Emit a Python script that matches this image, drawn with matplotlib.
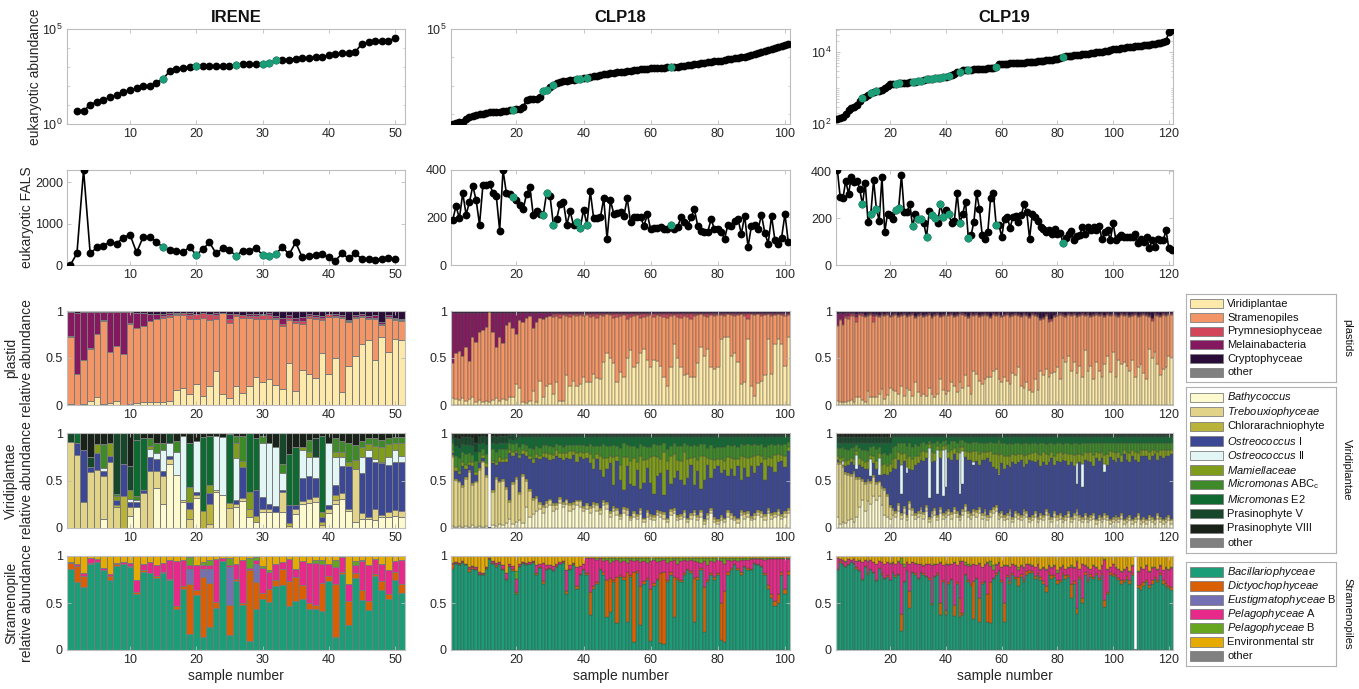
import matplotlib
matplotlib.use("Agg")
import matplotlib.pyplot as plt
import numpy as np
from matplotlib.patches import Rectangle

plt.rcParams["font.family"] = ["Liberation Sans", "DejaVu Sans"]
plt.rcParams["mathtext.fontset"] = "custom"
plt.rcParams["mathtext.rm"] = "Liberation Sans"
plt.rcParams["mathtext.it"] = "Liberation Sans:italic"
plt.rcParams["mathtext.bf"] = "Liberation Sans:bold"

# ---------------- data ----------------
titles = ["IRENE", "CLP18", "CLP19"]

# eukaryotic abundance (sorted), IRENE starts at sample 2
irene_abund = [5, 5, 10, 15, 19, 25, 34, 49, 65, 76, 100, 100, 150, 240, 600, 740, 910, 990,
               1070, 1070, 1080, 1110, 1120, 1150, 1300, 1400, 1420, 1450, 1480, 1600, 2200,
               2400, 2450, 2800, 2900, 3000, 3300, 3350, 4300, 5000, 5300, 5500, 6200, 17000,
               20000, 22000, 22500, 23000, 33000]
clp18_abund = [46, 48, 51, 55, 66, 78, 87, 91, 98, 102, 110, 115, 117, 120, 123, 126, 129, 135,
               145, 151, 158, 182, 316, 331, 339, 347, 417, 661, 724, 891, 1100, 1260, 1350,
               1450, 1510, 1580, 1660, 1740, 1780, 1820, 1900, 2090, 2190, 2290, 2400, 2510,
               2630, 2750, 2880, 3020, 3090, 3160, 3310, 3390, 3550, 3630, 3800, 3890, 3980,
               4170, 4270, 4270, 4370, 4370, 4470, 4470, 4570, 4680, 4790, 5010, 5250, 5500,
               5750, 6030, 6310, 6460, 6610, 6920, 7240, 7590, 7760, 8130, 8510, 8910, 9330,
               9770, 10200, 10700, 11500, 12300, 13200, 14100, 15100, 16600, 18600, 20000,
               21400, 22900, 25100, 27500, 28800]
clp19_abund = [138, 148, 158, 191, 245, 282, 295, 347, 447, 537, 562, 631, 724, 776, 813, 851,
               891, 1000, 1150, 1320, 1320, 1330, 1350, 1380, 1410, 1420, 1450, 1480, 1510,
               1550, 1620, 1700, 1740, 1780, 1820, 1860, 1900, 1950, 2000, 2040, 2140, 2290,
               2510, 2750, 2880, 3090, 3160, 3160, 3240, 3310, 3310, 3390, 3390, 3470, 3550,
               3550, 3630, 3800, 4570, 4680, 4790, 4790, 4900, 4900, 5010, 5010, 5130, 5130,
               5250, 5250, 5370, 5370, 5500, 5620, 5750, 5890, 6030, 6170, 6310, 6460, 6760,
               7240, 7590, 7760, 7940, 8130, 8320, 8510, 8710, 8910, 9120, 9330, 9550, 9770,
               10000, 10200, 10500, 11000, 11500, 12000, 12300, 12600, 12900, 13200, 13500,
               13800, 14100, 14500, 14800, 15100, 15500, 15800, 16200, 16600, 17000, 17400,
               18200, 19100, 20400, 36300, 41700]

# eukaryotic FALS
irene_fals = [0, 280, 2300, 280, 425, 465, 560, 520, 665, 735, 305, 680, 680, 560, 425, 375,
              345, 305, 440, 240, 385, 545, 280, 400, 360, 225, 345, 345, 415, 240, 225, 265,
              440, 255, 545, 185, 225, 240, 255, 185, 105, 280, 160, 280, 145, 145, 120, 145,
              160, 145]
clp18_fals = [190, 248, 196, 303, 212, 265, 333, 272, 170, 335, 336, 343, 302, 290, 145, 400,
              302, 300, 287, 272, 252, 235, 298, 328, 210, 226, 215, 212, 305, 290, 170, 195,
              258, 265, 170, 226, 168, 180, 155, 233, 170, 310, 196, 196, 200, 280, 110, 272,
              215, 220, 222, 205, 280, 180, 200, 200, 200, 165, 213, 150, 155, 155, 160, 150,
              150, 170, 150, 160, 200, 180, 165, 200, 236, 165, 145, 140, 140, 193, 150, 152,
              140, 110, 170, 165, 185, 195, 130, 208, 75, 165, 168, 150, 212, 135, 90, 206,
              105, 90, 115, 215, 95]
clp19_fals = [405, 290, 287, 360, 304, 375, 353, 360, 325, 259, 350, 184, 219, 363, 240, 190,
              375, 141, 219, 212, 195, 236, 243, 384, 226, 226, 261, 165, 219, 198, 196, 180,
              120, 230, 215, 202, 180, 261, 205, 233, 219, 180, 190, 307, 180, 219, 271, 117,
              127, 184, 307, 240, 127, 109, 141, 285, 308, 172, 172, 120, 198, 205, 158, 205,
              208, 184, 212, 259, 226, 113, 219, 205, 190, 163, 155, 141, 151, 134, 155, 134,
              137, 95, 116, 131, 144, 106, 124, 127, 163, 134, 163, 148, 163, 148, 165, 109,
              141, 148, 106, 180, 106, 120, 127, 120, 120, 120, 120, 131, 92, 113, 99, 120, 71,
              106, 78, 113, 106, 106, 148, 71, 66]

irene_green = [15, 20, 26, 30, 31, 32]
clp18_green = [19, 28, 29, 31, 38, 39, 41, 66]
clp19_green = [10, 13, 15, 22, 23, 28, 30, 31, 33, 35, 36, 38, 39, 41, 45, 48, 58, 82]

# plastid relative abundance (percent per sample)
plastid_labels = ["Viridiplantae", "Stramenopiles", "Prymnesiophyceae", "Melainabacteria",
                  "Cryptophyceae", "other"]
irene_pla_vir = [1, 0, 1, 4, 8, 1, 2, 4, 0, 1, 2, 3, 3, 3, 3, 4, 16, 18, 12, 22, 10, 20, 36, 12,
                 7, 20, 13, 20, 30, 25, 28, 21, 17, 45, 15, 37, 33, 29, 55, 33, 50, 14, 42, 52,
                 65, 69, 48, 72, 56, 70, 69]
irene_pla_str = [71, 33, 47, 56, 68, 88, 54, 59, 54, 85, 80, 81, 86, 89, 90, 90, 80, 78, 80, 70,
                 83, 70, 56, 86, 80, 75, 80, 73, 62, 67, 63, 70, 67, 45, 72, 49, 60, 62, 35, 61,
                 44, 79, 46, 41, 29, 23, 44, 13, 37, 20, 20]
irene_pla_pry = [1, 0, 0, 1, 0, 1, 0, 0, 0, 1, 0, 0, 0, 0, 2, 2, 1, 2, 4, 5, 5, 7, 4, 0, 5, 2, 3,
                 2, 3, 4, 5, 2, 2, 3, 2, 3, 2, 3, 3, 3, 1, 1, 1, 1, 1, 1, 1, 1, 1, 1, 1]
irene_pla_mel = [26, 65, 51, 38, 23, 9, 43, 36, 45, 12, 16, 14, 8, 5, 2, 2, 1, 0, 2, 0, 0, 0, 2,
                 0, 5, 0, 0, 2, 2, 1, 2, 2, 7, 3, 4, 5, 2, 2, 2, 0, 2, 2, 1, 2, 2, 2, 3, 2, 2, 2,
                 2]
irene_pla_cry = [1, 2, 1, 1, 1, 1, 1, 1, 1, 1, 2, 2, 3, 3, 3, 2, 2, 2, 2, 3, 2, 3, 2, 2, 3, 3, 4,
                 3, 3, 3, 2, 5, 7, 4, 7, 6, 3, 4, 5, 3, 3, 4, 10, 4, 3, 5, 4, 12, 4, 7, 8]

clp18_pla_vir = [7, 6, 5, 7, 4, 6, 8, 3, 5, 3, 4, 3, 5, 7, 4, 6, 5, 8, 8, 22, 18, 3, 2, 4, 15, 3,
                 26, 8, 20, 22, 12, 25, 4, 4, 32, 20, 26, 20, 22, 30, 24, 25, 33, 29, 28, 46, 55,
                 50, 45, 25, 35, 30, 50, 58, 40, 45, 55, 60, 48, 40, 48, 47, 42, 30, 20, 40, 65,
                 50, 40, 32, 33, 30, 30, 45, 62, 52, 60, 40, 38, 40, 70, 72, 72, 52, 55, 46, 22,
                 24, 70, 20, 10, 23, 26, 32, 70, 33, 65, 70, 65, 42, 72]
clp18_pla_str = [38, 49, 52, 45, 58, 41, 64, 64, 73, 77, 79, 96, 73, 55, 68, 60, 80, 80, 74, 54,
                 72, 85, 91, 91, 67, 85, 67, 84, 74, 73, 82, 70, 89, 92, 63, 74, 70, 75, 74, 65,
                 72, 69, 62, 64, 68, 49, 42, 46, 48, 69, 60, 66, 42, 36, 55, 51, 38, 34, 47, 56,
                 46, 49, 53, 64, 73, 55, 31, 44, 53, 63, 61, 62, 65, 51, 35, 43, 34, 56, 57, 56,
                 26, 23, 25, 44, 40, 50, 75, 71, 22, 77, 86, 74, 69, 64, 27, 62, 31, 27, 31, 53,
                 24]
clp18_pla_pry = [0, 0, 0, 0, 0, 0, 0, 0, 0, 0, 0, 0, 0, 0, 0, 0, 0, 0, 0, 0, 0, 0, 0, 0, 0, 0, 0,
                 0, 0, 0, 3, 2, 4, 1, 2, 3, 1, 2, 1, 2, 1, 3, 2, 4, 1, 2, 0, 1, 4, 3, 2, 1, 5, 3,
                 2, 1, 4, 3, 2, 1, 3, 1, 2, 3, 4, 2, 1, 3, 4, 2, 3, 5, 2, 1, 0, 2, 3, 1, 2, 1, 1,
                 2, 0, 1, 2, 1, 0, 2, 5, 0, 1, 0, 2, 1, 0, 2, 1, 0, 1, 2, 1]
clp18_pla_mel = [53, 43, 41, 46, 36, 51, 26, 31, 20, 18, 15, 0, 20, 36, 26, 32, 13, 10, 16, 22,
                 8, 10, 5, 3, 16, 10, 5, 6, 4, 3, 1, 1, 1, 1, 1, 1, 1, 1, 1, 1, 1, 1, 1, 1, 1, 1,
                 1, 1, 1, 1, 1, 1, 1, 1, 1, 1, 1, 1, 1, 1, 1, 1, 1, 1, 1, 1, 1, 1, 1, 1, 1, 1, 1,
                 1, 1, 1, 1, 1, 1, 1, 1, 1, 1, 1, 1, 1, 1, 1, 1, 1, 1, 1, 1, 1, 1, 1, 1, 1, 1, 1,
                 1]
clp18_pla_cry = [2, 2, 2, 2, 2, 2, 2, 2, 2, 2, 2, 1, 2, 2, 2, 2, 2, 2, 2, 2, 2, 2, 2, 2, 2, 2, 2,
                 2, 2, 2, 2, 2, 2, 2, 2, 2, 2, 2, 2, 2, 2, 2, 2, 2, 2, 2, 2, 2, 2, 2, 2, 2, 2, 2,
                 2, 2, 2, 2, 2, 2, 2, 2, 2, 2, 2, 2, 2, 2, 2, 2, 2, 2, 2, 2, 2, 2, 2, 2, 2, 2, 2,
                 2, 2, 2, 2, 2, 2, 2, 2, 2, 2, 2, 2, 2, 2, 2, 2, 2, 2, 2, 2]

clp19_pla_vir = [4, 3, 3, 3, 4, 5, 3, 9, 8, 5, 3, 15, 8, 8, 8, 12, 17, 6, 11, 18, 16, 15, 12, 20,
                 10, 18, 16, 10, 25, 14, 10, 12, 10, 18, 12, 8, 12, 28, 16, 12, 15, 24, 20, 14,
                 24, 18, 32, 20, 12, 36, 33, 26, 22, 28, 30, 30, 36, 38, 28, 25, 30, 26, 22, 34,
                 32, 40, 20, 18, 24, 16, 14, 28, 16, 36, 32, 38, 30, 34, 35, 40, 28, 50, 46, 52,
                 36, 46, 34, 42, 30, 58, 36, 42, 28, 46, 36, 30, 44, 52, 35, 56, 30, 48, 44, 46,
                 42, 36, 48, 30, 40, 44, 34, 28, 60, 50, 56, 44, 32, 38, 40, 52, 50]
clp19_pla_str = [80, 87, 82, 90, 88, 90, 92, 79, 88, 90, 91, 80, 88, 80, 87, 82, 79, 89, 85, 76,
                 79, 81, 82, 75, 86, 76, 79, 86, 68, 81, 86, 82, 85, 78, 81, 87, 84, 66, 79, 84,
                 80, 72, 74, 81, 73, 78, 63, 73, 84, 59, 63, 68, 73, 68, 65, 63, 60, 57, 68, 69,
                 65, 70, 72, 61, 64, 55, 74, 78, 71, 77, 82, 67, 78, 54, 60, 57, 58, 55, 59, 55,
                 68, 45, 48, 44, 59, 50, 60, 53, 66, 37, 60, 52, 67, 50, 59, 66, 50, 44, 60, 40,
                 65, 46, 52, 49, 54, 58, 47, 66, 54, 51, 62, 67, 34, 39, 40, 51, 62, 58, 55, 44,
                 46]
clp19_pla_pry = [1, 1, 1, 2, 3, 2, 2, 6, 1, 2, 1, 1, 1, 7, 1, 1, 1, 1, 1, 1, 1, 1, 1, 1, 1, 1, 1,
                 1, 1, 1, 1, 1, 1, 1, 1, 1, 1, 1, 1, 1, 1, 1, 1, 1, 1, 1, 1, 1, 1, 1, 1, 1, 1, 1,
                 1, 1, 1, 1, 1, 1, 1, 1, 1, 1, 1, 1, 1, 1, 1, 1, 1, 1, 1, 2, 1, 1, 2, 2, 1, 1, 1,
                 1, 1, 1, 1, 1, 1, 1, 1, 1, 1, 1, 1, 1, 1, 1, 1, 1, 1, 1, 1, 1, 1, 1, 1, 1, 1, 1,
                 1, 1, 1, 1, 1, 3, 1, 1, 1, 1, 1, 1, 1]
clp19_pla_mel = [12, 7, 11, 3, 3, 1, 1, 3, 1, 1, 1, 1, 1, 2, 1, 1, 1, 1, 1, 1, 1, 1, 1, 1, 1, 1,
                 1, 1, 1, 1, 1, 1, 1, 1, 1, 1, 1, 1, 1, 1, 1, 1, 1, 1, 1, 1, 1, 1, 1, 1, 1, 1, 1,
                 1, 1, 1, 1, 1, 1, 1, 1, 1, 1, 1, 1, 1, 1, 1, 1, 1, 1, 1, 1, 1, 1, 1, 2, 1, 1, 1,
                 1, 1, 1, 1, 1, 1, 1, 1, 1, 1, 1, 1, 1, 1, 1, 1, 1, 1, 1, 1, 1, 1, 1, 1, 1, 1, 1,
                 1, 1, 1, 1, 1, 1, 1, 1, 1, 1, 1, 1, 1, 1]
clp19_pla_cry = [3, 2, 3, 2, 2, 2, 2, 3, 2, 2, 4, 3, 2, 3, 3, 4, 2, 3, 2, 4, 3, 2, 4, 3, 2, 4, 3,
                 2, 5, 3, 2, 4, 3, 2, 5, 3, 2, 4, 3, 2, 3, 2, 4, 3, 1, 2, 3, 5, 2, 3, 2, 4, 3, 2,
                 3, 5, 2, 3, 2, 4, 3, 2, 4, 3, 2, 3, 4, 2, 3, 5, 2, 3, 4, 7, 6, 3, 8, 8, 4, 3, 2,
                 3, 4, 2, 3, 2, 4, 3, 2, 3, 2, 4, 3, 2, 3, 2, 4, 2, 3, 2, 3, 4, 2, 3, 2, 4, 3, 2,
                 4, 3, 2, 3, 4, 7, 2, 3, 4, 2, 3, 2, 2]

# Viridiplantae relative abundance (percent per sample)
viridi_labels = [r"$\it{Bathycoccus}$", r"$\it{Trebouxiophyceae}$", "Chlorarachniophyte",
                 r"$\it{Ostreococcus}$ I", r"$\it{Ostreococcus}$ II", r"$\it{Mamiellaceae}$",
                 r"$\it{Micromonas}$ ABC$_\mathrm{c}$", r"$\it{Micromonas}$ E2",
                 "Prasinophyte V", "Prasinophyte VIII", "other"]
irene_vir_bat = [0, 0, 0, 0, 0, 10, 0, 0, 0, 13, 22, 0, 0, 42, 25, 67, 56, 27, 0, 32, 0, 0, 38,
                 35, 0, 22, 28, 12, 6, 17, 17, 17, 17, 0, 15, 25, 26, 27, 0, 16, 25, 31, 18, 6,
                 9, 10, 8, 12, 12, 13, 12]
irene_vir_tre = [91, 77, 27, 59, 61, 45, 70, 22, 0, 9, 0, 37, 60, 18, 30, 6, 0, 3, 10, 3, 0, 4,
                 2, 0, 21, 3, 4, 0, 0, 3, 3, 0, 21, 2, 5, 3, 5, 6, 3, 4, 5, 6, 2, 56, 7, 2, 12, 2,
                 5, 6, 6]
irene_vir_chl = [0, 0, 0, 0, 0, 0, 0, 2, 34, 0, 0, 0, 0, 0, 0, 0, 0, 0, 10, 0, 18, 21, 0, 0, 5,
                 0, 0, 8, 7, 0, 0, 0, 0, 3, 0, 0, 0, 0, 3, 0, 5, 0, 0, 0, 0, 0, 0, 0, 0, 0, 0]
irene_vir_os1 = [0, 12, 55, 5, 18, 5, 6, 6, 33, 5, 5, 3, 15, 13, 5, 3, 0, 0, 7, 3, 0, 12, 0, 0,
                 0, 4, 32, 0, 27, 13, 5, 6, 2, 19, 4, 25, 24, 20, 6, 4, 10, 28, 45, 0, 42, 63, 50,
                 54, 49, 51, 52]
irene_vir_os2 = [0, 0, 0, 0, 0, 3, 0, 0, 0, 4, 3, 0, 8, 6, 22, 14, 24, 67, 0, 54, 0, 0, 57, 61,
                 0, 45, 0, 0, 0, 57, 64, 62, 18, 0, 0, 29, 20, 22, 0, 66, 30, 10, 0, 0, 17, 7, 3,
                 2, 9, 12, 6]
irene_vir_mam = [0, 0, 0, 0, 9, 0, 14, 4, 0, 9, 0, 0, 3, 0, 0, 0, 0, 0, 16, 0, 0, 8, 0, 0, 0,
                 16, 7, 18, 0, 0, 0, 0, 0, 0, 0, 3, 5, 0, 5, 0, 5, 5, 5, 10, 10, 6, 13, 15, 13, 8,
                 14]
irene_vir_mia = [0, 0, 0, 0, 0, 25, 0, 2, 0, 0, 4, 0, 9, 11, 8, 0, 12, 0, 0, 0, 0, 0, 0, 0, 0,
                 7, 26, 0, 0, 7, 0, 0, 9, 0, 0, 0, 13, 0, 0, 0, 15, 12, 20, 15, 7, 7, 9, 8, 7, 6,
                 6]
irene_vir_mie = [0, 11, 0, 0, 0, 0, 0, 0, 0, 0, 59, 55, 0, 0, 0, 0, 0, 0, 47, 0, 78, 52, 0, 0,
                 73, 0, 0, 62, 55, 0, 0, 0, 0, 54, 61, 0, 0, 0, 80, 0, 0, 0, 0, 0, 0, 0, 0, 0, 0,
                 0, 0]
irene_vir_pv = [9, 0, 0, 11, 0, 0, 0, 64, 33, 25, 7, 0, 0, 0, 0, 10, 0, 0, 0, 0, 0, 0, 0, 0, 0,
                0, 0, 0, 0, 0, 0, 0, 33, 0, 0, 0, 0, 20, 0, 0, 0, 0, 0, 0, 0, 0, 0, 0, 0, 0, 0]
irene_vir_p8 = [0, 0, 18, 25, 12, 12, 10, 0, 0, 35, 0, 5, 5, 10, 10, 0, 8, 3, 10, 8, 4, 3, 3, 4,
                1, 3, 3, 0, 5, 3, 11, 15, 0, 22, 15, 15, 7, 5, 3, 10, 5, 8, 10, 13, 8, 5, 5, 7, 5,
                4, 4]

clp18_vir_bat = [2, 1, 2, 1, 2, 1, 3, 1, 2, 1, 2, 0, 3, 2, 4, 3, 5, 10, 4, 6, 8, 5, 22, 12, 15,
                 18, 20, 16, 22, 24, 18, 20, 26, 22, 25, 18, 20, 24, 22, 18, 20, 16, 22, 18, 15,
                 24, 20, 12, 18, 14, 10, 16, 14, 8, 12, 10, 15, 6, 12, 10, 8, 14, 12, 10, 6, 14,
                 16, 8, 10, 12, 6, 10, 14, 8, 12, 4, 10, 16, 6, 4, 8, 6, 12, 10, 8, 5, 14, 10, 12,
                 8, 10, 14, 12, 8, 16, 10, 12, 14, 10, 12, 16]
clp18_vir_tre = [73, 49, 46, 42, 50, 58, 42, 47, 59, 68, 52, 0, 35, 50, 44, 47, 36, 17, 42, 46,
                 28, 50, 28, 27, 15, 14, 5, 6, 4, 5, 6, 4, 5, 3, 4, 6, 5, 4, 6, 3, 4, 5, 3, 6, 4,
                 3, 5, 4, 3, 5, 3, 4, 5, 3, 4, 3, 4, 3, 5, 3, 4, 3, 4, 5, 3, 4, 3, 4, 3, 5, 3, 4,
                 3, 4, 5, 3, 4, 3, 4, 3, 4, 3, 5, 4, 3, 4, 3, 5, 4, 3, 4, 3, 4, 5, 3, 4, 3, 4, 3,
                 4, 3]
clp18_vir_chl = [2, 2, 2, 2, 2, 2, 2, 2, 2, 2, 2, 0, 2, 2, 2, 2, 2, 2, 2, 2, 2, 2, 2, 2, 2, 2, 2,
                 2, 2, 2, 2, 2, 2, 2, 2, 2, 2, 2, 2, 2, 2, 2, 2, 2, 2, 2, 2, 2, 2, 2, 2, 2, 2, 2,
                 2, 2, 2, 2, 2, 2, 2, 2, 2, 2, 2, 2, 2, 2, 2, 2, 2, 2, 2, 2, 2, 2, 2, 2, 2, 2, 2,
                 2, 2, 2, 2, 2, 2, 2, 2, 2, 2, 2, 2, 2, 2, 2, 2, 2, 2, 2, 2]
clp18_vir_os1 = [2, 8, 7, 20, 8, 5, 18, 6, 5, 3, 8, 0, 28, 12, 20, 18, 27, 50, 28, 25, 36, 21,
                 24, 32, 36, 40, 46, 51, 46, 41, 47, 50, 41, 45, 43, 47, 50, 40, 45, 50, 48, 45,
                 35, 47, 40, 25, 35, 50, 22, 50, 36, 18, 44, 33, 26, 46, 20, 36, 44, 32, 22, 36,
                 40, 18, 50, 26, 32, 46, 36, 26, 42, 50, 26, 46, 22, 42, 50, 32, 50, 56, 44, 50,
                 36, 46, 42, 54, 32, 46, 36, 52, 42, 46, 50, 36, 44, 48, 42, 50, 56, 46, 60]
clp18_vir_os2 = [0, 0, 0, 0, 0, 0, 0, 0, 0, 0, 0, 0, 0, 0, 0, 0, 0, 0, 0, 0, 0, 0, 0, 0, 0, 0, 0,
                 0, 0, 0, 0, 0, 0, 0, 0, 0, 0, 0, 0, 0, 0, 0, 0, 0, 0, 0, 0, 0, 0, 0, 0, 0, 0, 0,
                 0, 0, 0, 0, 0, 0, 0, 0, 0, 0, 0, 0, 0, 0, 0, 0, 0, 0, 0, 0, 0, 0, 0, 0, 0, 0, 0,
                 0, 0, 0, 0, 0, 0, 0, 0, 0, 0, 0, 0, 0, 0, 0, 0, 0, 0, 0, 0]
clp18_vir_mam = [3, 4, 3, 5, 4, 3, 4, 3, 2, 3, 4, 0, 3, 4, 5, 3, 4, 3, 4, 2, 3, 4, 5, 3, 5, 4, 3,
                 4, 5, 6, 4, 6, 5, 7, 5, 8, 4, 9, 5, 6, 6, 10, 12, 5, 15, 20, 12, 8, 30, 5, 15,
                 35, 10, 25, 30, 8, 35, 25, 10, 28, 40, 20, 15, 45, 10, 30, 25, 12, 20, 35, 20, 8,
                 30, 12, 35, 25, 8, 20, 10, 8, 15, 10, 20, 12, 18, 8, 25, 12, 20, 10, 18, 12, 8,
                 22, 10, 10, 18, 8, 6, 12, 4]
clp18_vir_mia = [8, 12, 14, 10, 12, 10, 8, 12, 10, 6, 10, 0, 12, 10, 8, 10, 9, 8, 8, 8, 8, 6, 6,
                 8, 10, 8, 8, 8, 8, 8, 8, 6, 8, 6, 8, 6, 6, 8, 7, 8, 6, 10, 12, 8, 10, 14, 12, 10,
                 12, 10, 18, 14, 12, 15, 12, 15, 12, 14, 12, 10, 12, 12, 14, 10, 12, 10, 12, 14,
                 15, 10, 14, 12, 12, 14, 12, 12, 10, 14, 12, 12, 12, 14, 12, 12, 14, 12, 12, 12,
                 14, 12, 12, 10, 12, 12, 12, 14, 10, 10, 10, 12, 6]
clp18_vir_mie = [4, 10, 10, 8, 9, 8, 9, 9, 8, 7, 9, 0, 7, 8, 7, 7, 7, 4, 5, 5, 11, 8, 9, 12, 13,
                 10, 12, 9, 9, 10, 11, 8, 9, 11, 9, 9, 9, 9, 9, 9, 10, 8, 10, 10, 10, 8, 10, 10,
                 9, 10, 12, 7, 9, 10, 10, 12, 8, 10, 11, 11, 8, 9, 9, 6, 13, 10, 6, 10, 10, 6, 9,
                 10, 9, 10, 8, 8, 12, 9, 12, 11, 11, 11, 9, 10, 9, 11, 8, 9, 8, 9, 8, 9, 8, 11, 9,
                 8, 9, 8, 9, 8, 5]
clp18_vir_pv = [4, 9, 10, 8, 9, 9, 9, 10, 8, 7, 9, 0, 7, 8, 7, 7, 7, 4, 5, 4, 2, 2, 2, 2, 2, 2, 2,
                2, 2, 2, 2, 2, 2, 2, 2, 2, 2, 2, 2, 2, 2, 2, 2, 2, 2, 2, 2, 2, 2, 2, 2, 2, 2, 2, 2,
                2, 2, 2, 2, 2, 2, 2, 2, 2, 2, 2, 2, 2, 2, 2, 2, 2, 2, 2, 2, 2, 2, 2, 2, 2, 2, 2, 2,
                2, 2, 2, 2, 2, 2, 2, 2, 2, 2, 2, 2, 2, 2, 2, 2, 2, 2]
clp18_vir_p8 = [2, 5, 6, 4, 4, 4, 5, 10, 4, 3, 4, 0, 3, 4, 3, 3, 3, 2, 2, 2, 2, 2, 2, 2, 2, 2, 2,
                2, 2, 2, 2, 2, 2, 2, 2, 2, 2, 2, 2, 2, 2, 2, 2, 2, 2, 2, 2, 2, 2, 2, 2, 2, 2, 2, 2,
                2, 2, 2, 2, 2, 2, 2, 2, 2, 2, 2, 2, 2, 2, 2, 2, 2, 2, 2, 2, 2, 2, 2, 2, 2, 2, 2, 2,
                2, 2, 2, 2, 2, 2, 2, 2, 2, 2, 2, 2, 2, 2, 2, 2, 2, 2]

clp19_vir_bat = [12, 4, 6, 5, 8, 10, 6, 12, 22, 30, 18, 28, 25, 34, 30, 34, 24, 14, 12, 10, 14,
                 12, 18, 10, 16, 8, 20, 14, 10, 12, 16, 10, 18, 6, 12, 14, 8, 16, 10, 12, 14, 10,
                 16, 12, 8, 14, 18, 12, 10, 14, 12, 16, 10, 14, 8, 12, 16, 18, 10, 12, 8, 10, 14,
                 6, 12, 10, 8, 14, 12, 6, 8, 12, 6, 10, 8, 14, 10, 6, 12, 8, 10, 6, 8, 12, 6, 10,
                 14, 8, 6, 10, 6, 8, 10, 4, 8, 6, 10, 8, 4, 6, 8, 6, 10, 4, 6, 8, 4, 6, 10, 4, 6,
                 4, 8, 6, 4, 10, 6, 4, 6, 8, 4]
clp19_vir_tre = [55, 63, 58, 52, 48, 45, 52, 40, 30, 20, 28, 22, 22, 20, 16, 14, 18, 26, 22, 12,
                 5, 4, 6, 4, 5, 4, 6, 5, 4, 4, 4, 5, 4, 4, 4, 5, 4, 4, 4, 4, 4, 5, 4, 4, 4, 4, 5,
                 4, 4, 4, 5, 4, 4, 4, 4, 5, 4, 4, 4, 4, 4, 4, 4, 4, 4, 4, 4, 4, 4, 4, 4, 4, 4, 4,
                 4, 4, 4, 4, 4, 4, 4, 4, 4, 4, 4, 4, 4, 4, 4, 4, 4, 4, 4, 4, 4, 4, 4, 4, 4, 4, 4,
                 4, 4, 4, 4, 4, 4, 4, 4, 4, 4, 4, 4, 4, 4, 4, 4, 4, 4, 4, 4]
clp19_vir_chl = [2, 2, 2, 2, 2, 2, 2, 2, 2, 2, 2, 2, 2, 2, 2, 2, 2, 2, 2, 2, 2, 2, 2, 2, 2, 2, 2,
                 2, 2, 2, 2, 2, 2, 2, 2, 2, 2, 2, 2, 2, 2, 2, 2, 2, 2, 2, 2, 2, 2, 2, 2, 2, 2, 2,
                 2, 2, 2, 2, 2, 2, 2, 2, 2, 2, 2, 2, 2, 2, 2, 2, 2, 2, 2, 2, 2, 2, 2, 2, 2, 2, 2,
                 2, 2, 2, 2, 2, 2, 2, 2, 2, 2, 2, 2, 2, 2, 2, 2, 2, 2, 2, 2, 2, 2, 2, 2, 2, 2, 2,
                 2, 2, 2, 2, 2, 2, 2, 2, 2, 2, 2, 2, 2]
clp19_vir_os1 = [3, 0, 0, 6, 8, 12, 6, 8, 12, 12, 14, 10, 6, 12, 14, 6, 12, 15, 20, 35, 42, 44,
                 46, 20, 48, 44, 34, 40, 50, 50, 50, 54, 50, 20, 52, 50, 22, 52, 18, 25, 54, 55,
                 56, 54, 22, 26, 50, 54, 56, 46, 52, 44, 56, 52, 60, 50, 42, 38, 40, 50, 48, 50,
                 44, 58, 49, 54, 58, 44, 49, 60, 57, 52, 60, 49, 56, 46, 53, 62, 48, 57, 54, 60,
                 57, 48, 58, 49, 26, 56, 31, 56, 59, 56, 49, 64, 57, 62, 43, 52, 65, 60, 55, 62,
                 53, 68, 60, 55, 66, 60, 53, 66, 64, 66, 58, 64, 68, 56, 64, 64, 64, 62, 68]
clp19_vir_os2 = [0, 0, 5, 0, 0, 0, 0, 15, 0, 0, 0, 0, 18, 0, 0, 18, 0, 0, 0, 0, 0, 0, 0, 30, 0, 6,
                 0, 0, 0, 0, 0, 0, 0, 52, 0, 0, 46, 0, 48, 40, 0, 0, 0, 0, 43, 35, 0, 0, 0, 3, 0,
                 0, 0, 0, 0, 0, 0, 0, 1, 0, 0, 0, 0, 0, 0, 0, 0, 0, 0, 0, 0, 0, 0, 0, 0, 0, 0, 0,
                 0, 0, 0, 0, 0, 0, 0, 0, 22, 0, 24, 0, 0, 0, 0, 0, 0, 0, 8, 0, 0, 0, 0, 0, 0, 0,
                 0, 0, 0, 0, 0, 0, 0, 0, 0, 0, 0, 0, 0, 0, 0, 0, 0]
clp19_vir_mam = [4, 5, 4, 6, 6, 5, 7, 4, 8, 8, 8, 9, 4, 8, 9, 5, 10, 10, 9, 8, 10, 12, 8, 12, 8,
                 10, 14, 12, 10, 8, 8, 10, 6, 4, 10, 8, 4, 8, 4, 4, 6, 10, 6, 8, 6, 4, 6, 8, 8,
                 12, 10, 12, 8, 8, 6, 12, 14, 16, 20, 10, 14, 10, 12, 8, 10, 8, 6, 12, 10, 6, 8,
                 10, 6, 12, 10, 12, 8, 6, 10, 8, 10, 6, 8, 12, 8, 12, 10, 8, 10, 8, 8, 10, 12, 6,
                 8, 6, 10, 12, 6, 8, 10, 6, 8, 4, 8, 10, 6, 8, 10, 6, 6, 6, 8, 6, 4, 8, 6, 8, 6,
                 6, 4]
clp19_vir_mia = [8, 10, 10, 12, 10, 10, 12, 6, 10, 10, 12, 10, 8, 10, 12, 6, 12, 12, 12, 12, 12,
                 12, 10, 12, 10, 12, 14, 12, 12, 10, 10, 10, 8, 4, 10, 10, 6, 8, 6, 6, 8, 10, 8,
                 10, 8, 8, 10, 10, 10, 10, 10, 12, 10, 10, 10, 10, 12, 12, 16, 12, 14, 12, 14, 10,
                 12, 12, 10, 14, 12, 10, 10, 10, 10, 12, 10, 10, 12, 10, 12, 10, 10, 10, 10, 12,
                 10, 12, 12, 10, 12, 10, 10, 10, 12, 10, 10, 10, 12, 12, 8, 10, 10, 10, 12, 8, 10,
                 10, 8, 10, 10, 8, 8, 8, 10, 8, 8, 10, 8, 8, 8, 8, 8]
clp19_vir_mie = [6, 6, 5, 7, 8, 6, 5, 3, 6, 8, 8, 9, 5, 4, 7, 5, 12, 11, 13, 11, 11, 10, 6, 6, 7,
                 10, 6, 11, 8, 10, 6, 5, 8, 4, 6, 7, 4, 6, 4, 3, 8, 4, 4, 6, 3, 3, 5, 6, 6, 5, 5,
                 6, 6, 6, 6, 5, 6, 6, 3, 6, 6, 8, 6, 8, 7, 6, 8, 6, 7, 8, 7, 6, 8, 7, 6, 8, 7, 6,
                 8, 7, 6, 8, 7, 6, 8, 7, 6, 8, 7, 6, 7, 6, 7, 6, 7, 6, 7, 6, 7, 6, 7, 6, 7, 6, 6,
                 7, 6, 6, 7, 6, 6, 6, 6, 6, 6, 6, 6, 6, 6, 6, 6]
clp19_vir_pv = [6, 6, 6, 6, 6, 6, 6, 6, 6, 6, 6, 6, 6, 6, 6, 6, 6, 6, 6, 6, 2, 2, 2, 2, 2, 2, 2,
                2, 2, 2, 2, 2, 2, 2, 2, 2, 2, 2, 2, 2, 2, 2, 2, 2, 2, 2, 2, 2, 2, 2, 2, 2, 2, 2, 2,
                2, 2, 2, 2, 2, 2, 2, 2, 2, 2, 2, 2, 2, 2, 2, 2, 2, 2, 2, 2, 2, 2, 2, 2, 2, 2, 2, 2,
                2, 2, 2, 2, 2, 2, 2, 2, 2, 2, 2, 2, 2, 2, 2, 2, 2, 2, 2, 2, 2, 2, 2, 2, 2, 2, 2, 2,
                2, 2, 2, 2, 2, 2, 2, 2, 2, 2]
clp19_vir_p8 = [4, 4, 4, 4, 4, 4, 4, 4, 4, 4, 4, 4, 4, 4, 4, 4, 4, 4, 4, 4, 2, 2, 2, 2, 2, 2, 2,
                2, 2, 2, 2, 2, 2, 2, 2, 2, 2, 2, 2, 2, 2, 2, 2, 2, 2, 2, 2, 2, 2, 2, 2, 2, 2, 2, 2,
                2, 2, 2, 2, 2, 2, 2, 2, 2, 2, 2, 2, 2, 2, 2, 2, 2, 2, 2, 2, 2, 2, 2, 2, 2, 2, 2, 2,
                2, 2, 2, 2, 2, 2, 2, 2, 2, 2, 2, 2, 2, 2, 2, 2, 2, 2, 2, 2, 2, 2, 2, 2, 2, 2, 2, 2,
                2, 2, 2, 2, 2, 2, 2, 2, 2, 2]

# Stramenopile relative abundance (percent per sample)
strameno_labels = [r"$\it{Bacillariophyceae}$", r"$\it{Dictyochophyceae}$",
                   r"$\it{Eustigmatophyceae}$ B", r"$\it{Pelagophyceae}$ A",
                   r"$\it{Pelagophyceae}$ B", "Environmental str", "other"]
irene_str_bac = [86, 72, 67, 92, 94, 85, 74, 89, 91, 88, 60, 83, 82, 77, 82, 74, 44, 65, 17, 58,
                 14, 25, 45, 95, 16, 73, 48, 10, 44, 54, 51, 68, 69, 47, 52, 54, 44, 44, 42, 73,
                 14, 81, 27, 77, 53, 43, 79, 64, 54, 75, 61]
irene_str_dic = [7, 17, 12, 1, 0, 0, 5, 2, 1, 1, 2, 2, 0, 2, 1, 2, 3, 3, 53, 6, 64, 46, 6, 0, 32,
                 3, 2, 75, 28, 7, 14, 6, 17, 26, 26, 15, 6, 4, 29, 6, 56, 2, 25, 5, 11, 9, 2, 9,
                 6, 8, 9]
irene_str_eus = [0, 0, 0, 0, 0, 0, 0, 0, 0, 0, 0, 0, 0, 0, 0, 0, 0, 0, 16, 0, 8, 15, 0, 0, 40, 0,
                 0, 0, 20, 0, 0, 0, 0, 0, 0, 0, 0, 0, 0, 0, 0, 0, 0, 0, 0, 0, 0, 0, 0, 0, 0]
irene_str_pea = [1, 2, 3, 5, 3, 2, 2, 2, 2, 4, 12, 7, 12, 11, 10, 20, 48, 28, 4, 26, 4, 4, 46, 3,
                 2, 16, 46, 2, 4, 26, 18, 18, 8, 24, 8, 26, 43, 45, 21, 13, 18, 16, 18, 8, 31, 38,
                 16, 19, 25, 12, 26]
irene_str_peb = [0, 0, 0, 0, 0, 0, 0, 0, 0, 0, 0, 0, 0, 0, 0, 0, 0, 0, 9, 0, 4, 6, 0, 0, 8, 0, 0,
                 11, 3, 2, 2, 0, 0, 0, 0, 0, 0, 3, 4, 0, 8, 0, 0, 5, 1, 0, 0, 0, 0, 0, 0]
irene_str_env = [6, 9, 18, 2, 3, 13, 19, 7, 6, 7, 26, 8, 6, 10, 7, 4, 5, 4, 1, 10, 6, 4, 3, 2, 2,
                 8, 4, 2, 1, 11, 15, 8, 6, 3, 14, 5, 7, 4, 4, 8, 4, 1, 30, 5, 4, 10, 3, 8, 15, 5,
                 4]

clp18_str_bac = [86, 91, 90, 93, 90, 83, 86, 85, 80, 80, 86, 97, 92, 88, 91, 85, 75, 88, 84, 60,
                 88, 92, 90, 91, 93, 80, 87, 70, 85, 86, 84, 88, 91, 93, 60, 85, 90, 65, 80, 85,
                 80, 37, 65, 70, 85, 80, 35, 40, 72, 29, 78, 75, 30, 78, 8, 82, 27, 70, 75, 10, 68,
                 74, 7, 6, 72, 80, 35, 75, 72, 80, 85, 82, 30, 75, 85, 19, 72, 80, 75, 80, 11, 8,
                 80, 85, 90, 85, 80, 88, 85, 85, 92, 90, 88, 80, 65, 55, 47, 50, 80, 60, 80]
clp18_str_dic = [6, 2, 1, 1, 1, 3, 2, 1, 1, 1, 1, 0, 1, 2, 1, 1, 1, 1, 2, 2, 1, 1, 1, 1, 1, 2, 1,
                 3, 1, 1, 1, 1, 1, 1, 3, 1, 1, 3, 1, 1, 2, 25, 3, 2, 1, 3, 40, 37, 3, 49, 2, 3, 53,
                 2, 75, 2, 41, 3, 2, 55, 3, 2, 75, 77, 2, 3, 43, 2, 3, 2, 1, 2, 47, 3, 2, 48, 3, 2,
                 3, 2, 39, 55, 3, 2, 1, 2, 3, 1, 2, 1, 1, 2, 1, 2, 4, 5, 5, 10, 3, 5, 4]
clp18_str_eus = [0, 0, 0, 0, 0, 0, 0, 0, 0, 0, 0, 0, 0, 0, 0, 0, 0, 0, 0, 0, 0, 0, 0, 0, 0, 0, 0,
                 0, 0, 0, 0, 0, 0, 0, 0, 0, 0, 0, 0, 0, 0, 0, 0, 0, 0, 0, 0, 0, 0, 0, 0, 0, 0, 0,
                 0, 0, 0, 0, 0, 0, 0, 0, 0, 0, 0, 0, 0, 0, 0, 0, 0, 0, 0, 0, 0, 0, 0, 0, 0, 0, 0,
                 0, 0, 0, 0, 0, 0, 0, 0, 0, 0, 0, 0, 0, 0, 0, 0, 0, 0, 0, 0]
clp18_str_pea = [1, 1, 2, 1, 1, 2, 1, 2, 2, 1, 1, 1, 2, 3, 2, 4, 6, 3, 3, 14, 2, 1, 2, 2, 1, 8, 3,
                 20, 4, 3, 4, 3, 2, 1, 22, 4, 2, 20, 8, 5, 16, 36, 30, 24, 12, 12, 21, 16, 20, 18,
                 14, 17, 10, 16, 12, 12, 26, 22, 16, 30, 25, 18, 13, 13, 19, 12, 18, 15, 20, 14, 9,
                 12, 18, 16, 6, 28, 15, 13, 16, 14, 45, 29, 13, 8, 5, 8, 13, 7, 9, 11, 4, 5, 8,
                 14, 28, 37, 45, 37, 14, 32, 13]
clp18_str_peb = [0, 0, 0, 0, 0, 0, 0, 0, 0, 0, 0, 0, 0, 0, 0, 0, 0, 0, 0, 8, 0, 0, 0, 0, 0, 0, 0,
                 0, 0, 0, 0, 0, 0, 0, 0, 0, 0, 0, 0, 0, 0, 0, 0, 2, 0, 3, 2, 5, 3, 2, 4, 3, 5, 2,
                 3, 2, 4, 3, 5, 3, 2, 4, 3, 2, 5, 3, 2, 6, 3, 2, 3, 2, 3, 4, 5, 3, 8, 3, 4, 2, 3,
                 6, 2, 3, 2, 3, 2, 2, 2, 1, 1, 1, 1, 2, 1, 1, 1, 1, 1, 1, 1]
clp18_str_env = [7, 6, 7, 5, 8, 12, 11, 12, 17, 18, 12, 2, 5, 7, 6, 10, 18, 8, 11, 16, 9, 6, 7, 6,
                 5, 10, 9, 7, 10, 10, 11, 8, 6, 5, 15, 10, 7, 12, 11, 9, 2, 2, 2, 2, 2, 2, 2, 2, 2,
                 2, 2, 2, 2, 2, 2, 2, 2, 2, 2, 2, 2, 2, 2, 2, 2, 2, 2, 2, 2, 2, 2, 2, 2, 2, 2, 2, 2,
                 2, 2, 2, 2, 2, 2, 2, 2, 2, 2, 2, 2, 2, 2, 2, 2, 2, 2, 2, 2, 2, 2, 2, 2]

clp19_str_bac = [85, 93, 90, 88, 90, 94, 92, 86, 84, 74, 88, 80, 85, 82, 73, 86, 80, 76, 78, 74,
                 82, 78, 80, 20, 72, 84, 45, 82, 80, 76, 82, 80, 78, 75, 48, 78, 80, 37, 72, 37,
                 70, 75, 36, 70, 35, 37, 80, 72, 68, 33, 76, 30, 70, 72, 30, 29, 76, 80, 84, 72,
                 30, 78, 70, 80, 76, 68, 78, 72, 80, 82, 82, 76, 80, 74, 70, 62, 80, 76, 78, 70,
                 72, 80, 76, 78, 55, 70, 38, 76, 50, 80, 72, 78, 76, 80, 74, 80, 46, 60, 80, 79,
                 78, 74, 70, 72, 76, 70, 80, 0, 66, 64, 68, 72, 66, 70, 76, 72, 80, 70, 68, 66, 64]
clp19_str_dic = [1, 2, 1, 1, 1, 0, 1, 2, 1, 2, 1, 2, 1, 1, 2, 1, 2, 1, 2, 1, 1, 2, 1, 18, 1, 1,
                 18, 1, 2, 1, 1, 2, 1, 2, 2, 1, 2, 13, 2, 6, 2, 1, 12, 2, 20, 2, 1, 2, 2, 40, 1,
                 25, 2, 1, 30, 43, 1, 2, 1, 2, 20, 2, 3, 2, 2, 10, 3, 2, 4, 3, 2, 3, 2, 4, 3, 6, 3,
                 4, 2, 4, 3, 2, 4, 2, 15, 3, 7, 2, 5, 3, 2, 3, 2, 2, 3, 2, 7, 2, 3, 2, 2, 3, 4, 2,
                 3, 4, 2, 0, 3, 6, 4, 2, 3, 4, 2, 3, 2, 4, 3, 2, 3]
clp19_str_eus = [0, 0, 0, 0, 0, 0, 0, 0, 0, 0, 0, 0, 0, 0, 0, 0, 0, 0, 0, 0, 0, 0, 0, 0, 0, 0, 0,
                 0, 0, 0, 0, 0, 0, 0, 0, 0, 0, 0, 0, 0, 0, 0, 0, 0, 0, 0, 0, 0, 0, 0, 0, 0, 0, 0,
                 0, 0, 0, 0, 0, 0, 0, 0, 0, 0, 0, 0, 0, 0, 0, 0, 0, 0, 0, 0, 0, 0, 0, 0, 0, 0, 0,
                 0, 0, 0, 0, 0, 0, 0, 0, 0, 0, 0, 0, 0, 0, 0, 0, 0, 0, 0, 0, 0, 0, 0, 0, 0, 0, 0,
                 0, 0, 0, 0, 0, 0, 0, 0, 0, 0, 0, 0, 0]
clp19_str_pea = [12, 2, 5, 5, 6, 2, 4, 7, 10, 18, 7, 12, 10, 11, 16, 8, 12, 14, 14, 17, 10, 12,
                 13, 54, 15, 9, 28, 11, 10, 14, 9, 7, 12, 14, 40, 11, 10, 43, 16, 48, 18, 16, 45,
                 18, 39, 56, 9, 15, 19, 18, 13, 37, 16, 17, 33, 17, 8, 8, 8, 14, 39, 9, 15, 9, 11,
                 7, 8, 13, 7, 5, 5, 9, 9, 7, 14, 17, 6, 7, 9, 8, 12, 7, 6, 7, 18, 14, 49, 8, 36, 6,
                 13, 5, 11, 5, 8, 7, 43, 23, 5, 10, 7, 9, 9, 11, 9, 9, 7, 0, 14, 17, 14, 15, 14,
                 13, 10, 10, 7, 11, 16, 17, 20]
clp19_str_peb = [0, 0, 0, 1, 0, 0, 0, 0, 1, 0, 0, 1, 0, 0, 1, 0, 0, 1, 0, 1, 1, 0, 1, 6, 4, 0, 1,
                 0, 1, 1, 0, 1, 0, 1, 0, 1, 0, 1, 0, 1, 1, 0, 1, 0, 1, 0, 4, 3, 1, 1, 0, 1, 0, 1,
                 1, 6, 5, 2, 1, 0, 1, 1, 0, 1, 1, 3, 1, 1, 0, 2, 1, 0, 1, 1, 1, 1, 1, 1, 1, 3, 1,
                 1, 0, 1, 2, 1, 1, 0, 1, 1, 1, 0, 1, 1, 0, 1, 1, 1, 0, 1, 1, 0, 1, 1, 0, 1, 1, 0,
                 1, 1, 0, 1, 1, 1, 0, 1, 1, 0, 1, 1, 1]
clp19_str_env = [2, 3, 4, 5, 3, 4, 3, 5, 4, 6, 4, 5, 4, 6, 8, 5, 6, 8, 6, 7, 6, 8, 5, 2, 8, 6, 8,
                 6, 7, 8, 8, 10, 9, 8, 10, 9, 8, 6, 10, 8, 9, 8, 6, 10, 5, 5, 6, 8, 10, 8, 10, 7,
                 12, 9, 6, 5, 10, 8, 6, 12, 10, 10, 12, 8, 10, 12, 10, 12, 9, 8, 10, 12, 8, 14, 12,
                 14, 10, 12, 10, 15, 12, 10, 14, 12, 10, 12, 5, 14, 8, 10, 12, 14, 10, 12, 15, 10,
                 3, 14, 12, 8, 12, 14, 16, 14, 12, 16, 10, 0, 16, 12, 14, 10, 16, 12, 12, 14, 10,
                 15, 12, 14, 12]

# ---------------- style ----------------
W, H = 1359, 689
COLS = [(67, 405), (451, 790), (836, 1173)]
ROWS = [(29, 124), (170, 265), (311, 405), (433, 528), (556, 650)]
SPINE = "#bdbdbd"
TEXT = "#262626"
GREEN = "#1b9e77"
TICK_FS = 9
LABEL_FS = 10

plastid_colors = ["#fde9a9", "#f29668", "#d3455b", "#84195f", "#2a0c38", "#808080"]
viridi_colors = ["#fefad0", "#e1d489", "#bab33a", "#3c4894", "#e2f6f6", "#7f9c1b", "#3e8a28",
                 "#0e6a31", "#17472a", "#182218", "#808080"]
strameno_colors = ["#1b9e77", "#d95f02", "#7570b3", "#e7298a", "#66a61e", "#e6ab02", "#808080"]

# bar outline per column: IRENE has wide bars, the cruises are dense
bar_edge = [("#7a7a7a", 0.7), ("#4a4a4a", 0.3), ("#4a4a4a", 0.3)]


def add_axes(fig, col, row):
    x0, x1 = COLS[col]
    y0, y1 = ROWS[row]
    return fig.add_axes([x0 / W, 1 - y1 / H, (x1 - x0) / W, (y1 - y0) / H])


def configure_axes(ax):
    for s in ax.spines.values():
        s.set_color(SPINE)
        s.set_linewidth(0.8)
    ax.tick_params(which="both", direction="in", top=True, right=True, color=SPINE,
                   labelsize=TICK_FS, labelcolor=TEXT, pad=3)
    ax.tick_params(which="major", length=3, width=0.6)
    ax.tick_params(which="minor", length=1.8, width=0.5)


def plot_series(ax, samples, values, green):
    values = np.asarray(values, dtype=float)
    ax.plot(samples, values, "-", color="k", lw=1.2, zorder=2)
    ax.plot(samples, values, "o", color="k", ms=4.6, zorder=3)
    lookup = dict(zip(samples, values))
    ax.plot(green, [lookup[g] for g in green], "o", color=GREEN, ms=4.6, zorder=4)


def plot_stacked(ax, series, colors, edge):
    n = len(series[0])
    x = np.arange(1, n + 1)
    bottom = np.zeros(n)
    for vals, c in zip(series, colors):
        v = np.asarray(vals, dtype=float) / 100
        ax.bar(x, v, bottom=bottom.copy(), width=1.0, color=c, edgecolor=edge[0],
               linewidth=edge[1])
        bottom = bottom + v
    ax.set_ylim(0, 1)
    ax.set_yticks([0, 0.5, 1])
    ax.set_yticklabels(["0", "0.5", "1"])


def draw_legend(fig, box, labels, colors, side):
    x0, x1, y0, y1 = box
    ax = fig.add_axes([x0 / W, 1 - y1 / H, (x1 - x0) / W, (y1 - y0) / H])
    ax.set_xlim(0, x1 - x0)
    ax.set_ylim(y1 - y0, 0)
    ax.set_xticks([])
    ax.set_yticks([])
    for s in ax.spines.values():
        s.set_color("#b0b0b0")
        s.set_linewidth(0.8)
    n = len(labels)
    pad = 3.0
    step = (y1 - y0 - 2 * pad) / n
    for i, (lab, c) in enumerate(zip(labels, colors)):
        yc = pad + step * (i + 0.5)
        ax.add_patch(Rectangle((4, yc - 4.6), 33, 9.2, facecolor=c, edgecolor="#7f7f7f",
                               linewidth=0.6))
        ax.text(41, yc, lab, fontsize=8, va="center", ha="left", color="#111111")
    fig.text(1347 / W, 1 - (y0 + y1) / 2 / H, side, rotation=270, ha="center", va="center",
             fontsize=8, color="#111111")


fig = plt.figure(figsize=(W / 100, H / 100), dpi=100)

abund = [irene_abund, clp18_abund, clp19_abund]
abund_start = [2, 1, 1]
fals = [irene_fals, clp18_fals, clp19_fals]
greens = [irene_green, clp18_green, clp19_green]
xlims = [(0.5, 51.5), (0.5, 101.5), (0.5, 121.5)]
xticks = [[10, 20, 30, 40, 50], [20, 40, 60, 80, 100], [20, 40, 60, 80, 100, 120]]
abund_ylim = [(1, 1e5), (45, 1e5), (100, 4.4e4)]
abund_major = [[1, 1e5], [1e5], [1e2, 1e4]]
abund_labels = [[r"$10^0$", r"$10^5$"], [r"$10^5$"], [r"$10^2$", r"$10^4$"]]
abund_minor = [[10, 100, 1000, 1e4], [100, 1000, 1e4],
               [200, 300, 400, 500, 600, 700, 800, 900, 1000, 2000, 3000, 4000, 5000, 6000,
                7000, 8000, 9000, 2e4, 3e4, 4e4]]
fals_ylim = [(0, 2300), (0, 400), (0, 406)]
fals_ticks = [[0, 1000, 2000], [0, 200, 400], [0, 200, 400]]

plastid = [
    [irene_pla_vir, irene_pla_str, irene_pla_pry, irene_pla_mel, irene_pla_cry],
    [clp18_pla_vir, clp18_pla_str, clp18_pla_pry, clp18_pla_mel, clp18_pla_cry],
    [clp19_pla_vir, clp19_pla_str, clp19_pla_pry, clp19_pla_mel, clp19_pla_cry],
]
viridi = [
    [irene_vir_bat, irene_vir_tre, irene_vir_chl, irene_vir_os1, irene_vir_os2, irene_vir_mam,
     irene_vir_mia, irene_vir_mie, irene_vir_pv, irene_vir_p8],
    [clp18_vir_bat, clp18_vir_tre, clp18_vir_chl, clp18_vir_os1, clp18_vir_os2, clp18_vir_mam,
     clp18_vir_mia, clp18_vir_mie, clp18_vir_pv, clp18_vir_p8],
    [clp19_vir_bat, clp19_vir_tre, clp19_vir_chl, clp19_vir_os1, clp19_vir_os2, clp19_vir_mam,
     clp19_vir_mia, clp19_vir_mie, clp19_vir_pv, clp19_vir_p8],
]
strameno = [
    [irene_str_bac, irene_str_dic, irene_str_eus, irene_str_pea, irene_str_peb, irene_str_env],
    [clp18_str_bac, clp18_str_dic, clp18_str_eus, clp18_str_pea, clp18_str_peb, clp18_str_env],
    [clp19_str_bac, clp19_str_dic, clp19_str_eus, clp19_str_pea, clp19_str_peb, clp19_str_env],
]

for c in range(3):
    # abundance
    ax = add_axes(fig, c, 0)
    n = len(abund[c])
    samples = list(range(abund_start[c], abund_start[c] + n))
    plot_series(ax, samples, abund[c], greens[c])
    ax.set_yscale("log")
    ax.set_ylim(*abund_ylim[c])
    ax.set_yticks(abund_major[c])
    ax.set_yticklabels(abund_labels[c])
    ax.set_yticks(abund_minor[c], minor=True)
    ax.set_yticklabels([], minor=True)
    ax.set_xlim(*xlims[c])
    ax.set_xticks(xticks[c])
    configure_axes(ax)
    ax.set_title(titles[c], fontsize=12, fontweight="bold", pad=5, color="#111111")
    if c == 0:
        ax.set_ylabel("eukaryotic abundance", fontsize=LABEL_FS, color=TEXT)
        ax.yaxis.set_label_coords(-0.074, 0.5)

    # FALS
    ax = add_axes(fig, c, 1)
    samples = list(range(1, len(fals[c]) + 1))
    plot_series(ax, samples, fals[c], greens[c])
    ax.set_ylim(*fals_ylim[c])
    ax.set_yticks(fals_ticks[c])
    ax.set_xlim(*xlims[c])
    ax.set_xticks(xticks[c])
    configure_axes(ax)
    if c == 0:
        ax.set_ylabel("eukaryotic FALS", fontsize=LABEL_FS, color=TEXT)
        ax.yaxis.set_label_coords(-0.098, 0.5)

    # stacked bars
    panels = [(plastid[c], plastid_colors, "plastid\nrelative abundance"),
              (viridi[c], viridi_colors, "Viridiplantae\nrelative abundance"),
              (strameno[c], strameno_colors, "Stramenopile\nrelative abundance")]
    for r, (series, colors, ylabel) in enumerate(panels):
        ax = add_axes(fig, c, r + 2)
        plot_stacked(ax, series, colors, bar_edge[c])
        ax.set_xlim(*xlims[c])
        ax.set_xticks(xticks[c])
        configure_axes(ax)
        if c == 0:
            ax.set_ylabel(ylabel, fontsize=LABEL_FS, color=TEXT, linespacing=1.15)
            ax.yaxis.set_label_coords(-0.098, 0.5)
        if r == 2:
            ax.set_xlabel("sample number", fontsize=LABEL_FS, color=TEXT, labelpad=2)

draw_legend(fig, (1186, 1336, 294, 382), plastid_labels, plastid_colors, "plastids")
draw_legend(fig, (1186, 1336, 387, 553), viridi_labels, viridi_colors, "Viridiplantae")
draw_legend(fig, (1186, 1336, 562, 666), strameno_labels, strameno_colors, "Stramenopiles")

fig.savefig("out.png", dpi=100)
